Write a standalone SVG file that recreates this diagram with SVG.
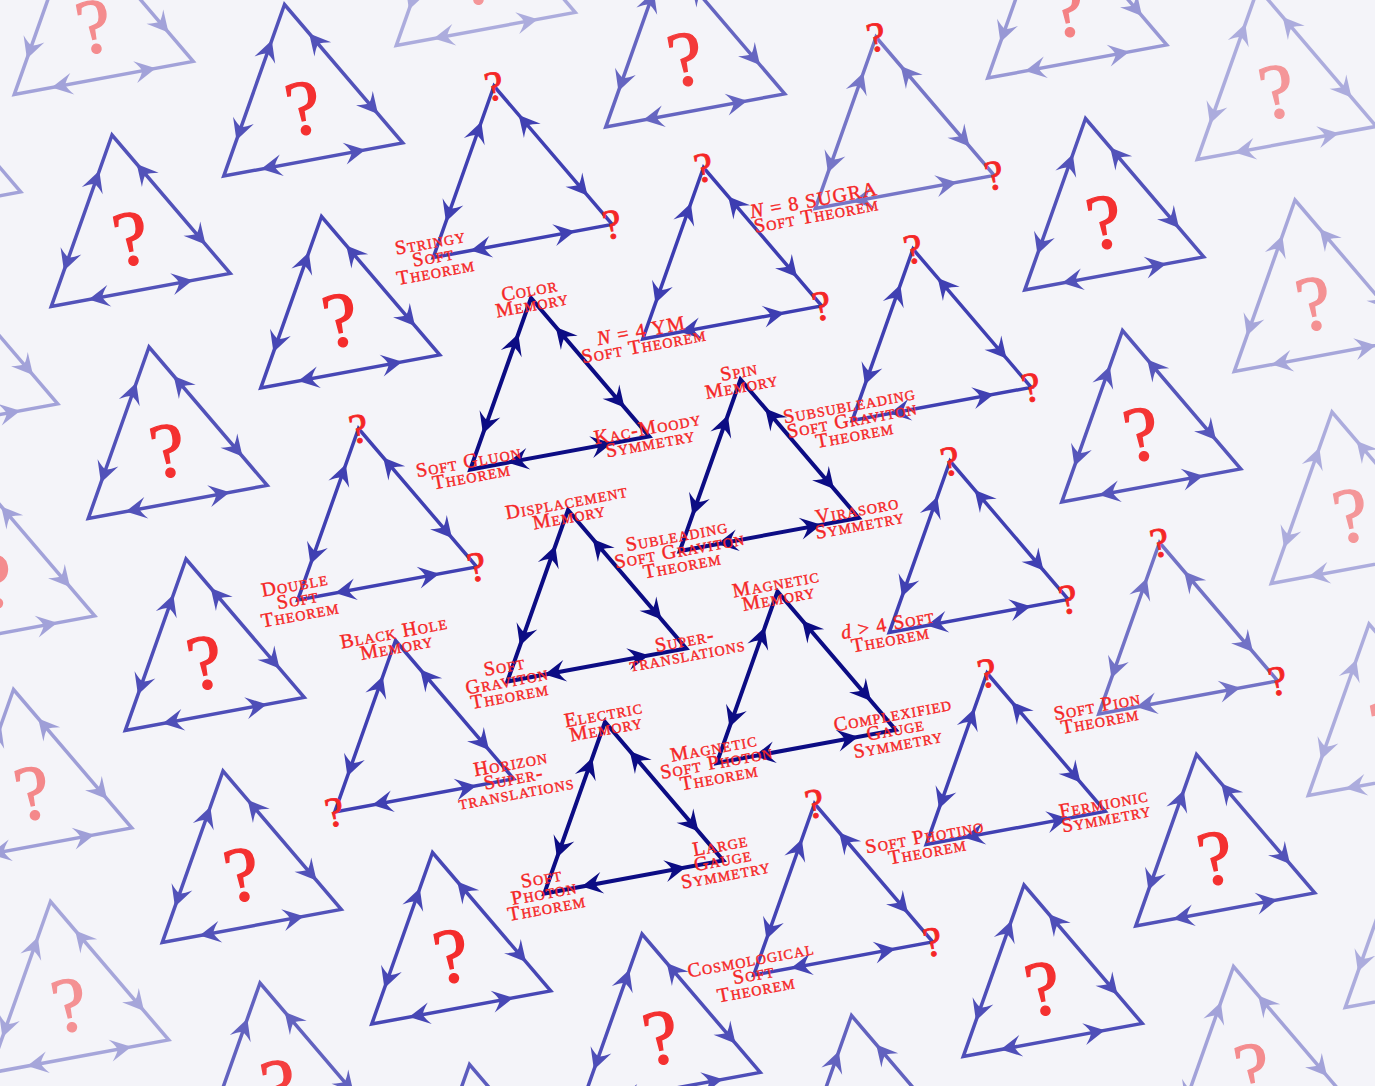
<svg xmlns="http://www.w3.org/2000/svg" xmlns:xlink="http://www.w3.org/1999/xlink" width="1375" height="1086" viewBox="0 0 1375 1086">
<style>
.lb{font-family:"Liberation Serif","DejaVu Serif",serif;font-size:20px;font-variant:small-caps;letter-spacing:1.1px;fill:#f42626;stroke:#f42626;stroke-width:0.4px;text-anchor:middle}
.q{font-family:"Liberation Serif","DejaVu Serif",serif;font-size:42px;fill:#f42626;stroke:#f42626;stroke-width:0.9px;text-anchor:middle}
.qc{font-size:78px;stroke-width:1.4px}
.mi{font-style:italic;font-variant:normal}
.dk{color:#0c0c84;stroke-width:4px}
.md{color:#2a2aaa;stroke-width:3.5px}
</style>
<defs>
<path id="ah" d="M0,0 L-21,-11 Q-15,-4 -14,0 Q-15,4 -21,11 Z"/>
<g id="tri">
<path d="M0,0 L-91,157.6 L91,157.6 Z" fill="none" stroke="currentColor" stroke-linejoin="miter"/>
<g fill="currentColor" stroke="none">
<use href="#ah" transform="translate(-19,32.9) rotate(-60)"/>
<use href="#ah" transform="translate(-72,124.7) rotate(120)"/>
<use href="#ah" transform="translate(19,32.9) rotate(-120)"/>
<use href="#ah" transform="translate(72,124.7) rotate(60)"/>
<use href="#ah" transform="translate(-53,157.6) rotate(180)"/>
<use href="#ah" transform="translate(53,157.6)"/>
</g>
</g>
</defs>
<rect x="0" y="0" width="1375" height="1086" fill="#f4f4f9"/>
<g id="connectors">
<use href="#tri" class="dk" transform="translate(531,298) rotate(-10.5)"/>
<use href="#tri" class="dk" transform="translate(740.5,379.5) rotate(-10.5)"/>
<use href="#tri" class="dk" transform="translate(568,510) rotate(-10.5)"/>
<use href="#tri" class="dk" transform="translate(777.5,591.5) rotate(-10.5)"/>
<use href="#tri" class="dk" transform="translate(605,722) rotate(-10.5)"/>
<use href="#tri" class="md" opacity="0.89" transform="translate(395.5,640.5) rotate(-10.5)"/>
<use href="#tri" class="md" opacity="0.89" transform="translate(494,86) rotate(-10.5)"/>
<use href="#tri" class="md" opacity="0.9" transform="translate(703.5,167.5) rotate(-10.5)"/>
<use href="#tri" class="md" opacity="0.62" transform="translate(876,37) rotate(-10.5)"/>
<use href="#tri" class="md" opacity="0.89" transform="translate(913,249) rotate(-10.5)"/>
<use href="#tri" class="md" opacity="0.89" transform="translate(950,461) rotate(-10.5)"/>
<use href="#tri" class="md" opacity="0.64" transform="translate(1159.5,542.5) rotate(-10.5)"/>
<use href="#tri" class="md" opacity="0.89" transform="translate(358.5,428.5) rotate(-10.5)"/>
<use href="#tri" class="md" opacity="0.89" transform="translate(987,673) rotate(-10.5)"/>
<use href="#tri" class="md" opacity="0.87" transform="translate(814.5,803.5) rotate(-10.5)"/>
<use href="#tri" class="md" opacity="0.4" transform="translate(75,-77) rotate(-10.5)"/>
<use href="#tri" class="md" opacity="0.35" transform="translate(457,-126) rotate(-10.5)"/>
<use href="#tri" class="md" opacity="0.8" transform="translate(284.5,4.5) rotate(-10.5)"/>
<use href="#tri" class="md" opacity="0.8" transform="translate(112,135) rotate(-10.5)"/>
<use href="#tri" class="md" opacity="0.4" transform="translate(-97.5,53.5) rotate(-10.5)"/>
<use href="#tri" class="md" opacity="0.7" transform="translate(666.5,-44.5) rotate(-10.5)"/>
<use href="#tri" class="md" opacity="0.45" transform="translate(1048.5,-93.5) rotate(-10.5)"/>
<use href="#tri" class="md" opacity="0.35" transform="translate(1258,-12) rotate(-10.5)"/>
<use href="#tri" class="md" opacity="0.8" transform="translate(1085.5,118.5) rotate(-10.5)"/>
<use href="#tri" class="md" opacity="0.38" transform="translate(1295,200) rotate(-10.5)"/>
<use href="#tri" class="md" opacity="0.78" transform="translate(1122.5,330.5) rotate(-10.5)"/>
<use href="#tri" class="md" opacity="0.35" transform="translate(1332,412) rotate(-10.5)"/>
<use href="#tri" class="md" opacity="0.35" transform="translate(1369,624) rotate(-10.5)"/>
<use href="#tri" class="md" opacity="0.35" transform="translate(1406,836) rotate(-10.5)"/>
<use href="#tri" class="md" opacity="0.8" transform="translate(1196.5,754.5) rotate(-10.5)"/>
<use href="#tri" class="md" opacity="0.82" transform="translate(1024,885) rotate(-10.5)"/>
<use href="#tri" class="md" opacity="0.4" transform="translate(1233.5,966.5) rotate(-10.5)"/>
<use href="#tri" class="md" opacity="0.72" transform="translate(851.5,1015.5) rotate(-10.5)"/>
<use href="#tri" class="md" opacity="0.82" transform="translate(642,934) rotate(-10.5)"/>
<use href="#tri" class="md" opacity="0.85" transform="translate(432.5,852.5) rotate(-10.5)"/>
<use href="#tri" class="md" opacity="0.8" transform="translate(223,771) rotate(-10.5)"/>
<use href="#tri" class="md" opacity="0.72" transform="translate(260,983) rotate(-10.5)"/>
<use href="#tri" class="md" opacity="0.38" transform="translate(50.5,901.5) rotate(-10.5)"/>
<use href="#tri" class="md" opacity="0.42" transform="translate(13.5,689.5) rotate(-10.5)"/>
<use href="#tri" class="md" opacity="0.4" transform="translate(-23.5,477.5) rotate(-10.5)"/>
<use href="#tri" class="md" opacity="0.82" transform="translate(186,559) rotate(-10.5)"/>
<use href="#tri" class="md" opacity="0.8" transform="translate(149,347) rotate(-10.5)"/>
<use href="#tri" class="md" opacity="0.4" transform="translate(-60.5,265.5) rotate(-10.5)"/>
<use href="#tri" class="md" opacity="0.85" transform="translate(321.5,216.5) rotate(-10.5)"/>
<use href="#tri" class="md" opacity="0.75" transform="translate(469.5,1064.5) rotate(-10.5)"/>
</g>
<g id="nodes">
<g id="n-color" transform="translate(531,298) rotate(-10.5)">
<text class="lb" x="0" y="-2">Color</text><text class="lb" x="0" y="13">Memory</text>
<text class="lb" x="-91" y="155.6">Soft Gluon</text><text class="lb" x="-91" y="170.6">Theorem</text>
<text class="lb" x="91" y="155.6">Kac-Moody</text><text class="lb" x="91" y="170.6">Symmetry</text>
</g>
<g id="n-spin" transform="translate(740.5,379.5) rotate(-10.5)">
<text class="lb" x="0" y="-2">Spin</text><text class="lb" x="0" y="13">Memory</text>
<text class="lb" x="-91" y="148.1">Subleading</text><text class="lb" x="-91" y="163.1">Soft Graviton</text><text class="lb" x="-91" y="178.1">Theorem</text>
<text class="lb" x="91" y="155.6">Virasoro</text><text class="lb" x="91" y="170.6">Symmetry</text>
</g>
<g id="n-displacement" transform="translate(568,510) rotate(-10.5)">
<text class="lb" x="0" y="-2">Displacement</text><text class="lb" x="0" y="13">Memory</text>
<text class="lb" x="-91" y="148.1">Soft</text><text class="lb" x="-91" y="163.1">Graviton</text><text class="lb" x="-91" y="178.1">Theorem</text>
<text class="lb" x="91" y="155.6">Super-</text><text class="lb" x="91" y="170.6">translations</text>
</g>
<g id="n-magnetic" transform="translate(777.5,591.5) rotate(-10.5)">
<text class="lb" x="0" y="-2">Magnetic</text><text class="lb" x="0" y="13">Memory</text>
<text class="lb" x="-91" y="148.1">Magnetic</text><text class="lb" x="-91" y="163.1">Soft Photon</text><text class="lb" x="-91" y="178.1">Theorem</text>
<text class="lb" x="91" y="148.1">Complexified</text><text class="lb" x="91" y="163.1">Gauge</text><text class="lb" x="91" y="178.1">Symmetry</text>
</g>
<g id="n-electric" transform="translate(605,722) rotate(-10.5)">
<text class="lb" x="0" y="-2">Electric</text><text class="lb" x="0" y="13">Memory</text>
<text class="lb" x="-91" y="148.1">Soft</text><text class="lb" x="-91" y="163.1">Photon</text><text class="lb" x="-91" y="178.1">Theorem</text>
<text class="lb" x="91" y="148.1">Large</text><text class="lb" x="91" y="163.1">Gauge</text><text class="lb" x="91" y="178.1">Symmetry</text>
</g>
<g id="n-blackhole" transform="translate(395.5,640.5) rotate(-10.5)">
<text class="lb" x="0" y="-2">Black Hole</text><text class="lb" x="0" y="13">Memory</text>
<text class="q" x="-91" y="171.6">?</text>
<text class="lb" x="91" y="148.1">Horizon</text><text class="lb" x="91" y="163.1">Super-</text><text class="lb" x="91" y="178.1">translations</text>
</g>
<g id="n-stringy" transform="translate(494,86) rotate(-10.5)">
<text class="q" x="0" y="14">?</text><text class="q" x="91" y="171.6">?</text>
<text class="lb" x="-91" y="148.1">Stringy</text><text class="lb" x="-91" y="163.1">Soft</text><text class="lb" x="-91" y="178.1">Theorem</text>
</g>
<g id="n-n4ym" transform="translate(703.5,167.5) rotate(-10.5)">
<text class="q" x="0" y="14">?</text><text class="q" x="91" y="171.6">?</text>
<text class="lb" x="-91" y="155.6"><tspan class="mi">N</tspan> = 4 YM</text><text class="lb" x="-91" y="170.6">Soft Theorem</text>
</g>
<g id="n-n8sugra" transform="translate(876,37) rotate(-10.5)">
<text class="q" x="0" y="14">?</text><text class="q" x="91" y="171.6">?</text>
<text class="lb" x="-91" y="155.6"><tspan class="mi">N</tspan> = 8 SUGRA</text><text class="lb" x="-91" y="170.6">Soft Theorem</text>
</g>
<g id="n-subsub" transform="translate(913,249) rotate(-10.5)">
<text class="q" x="0" y="14">?</text><text class="q" x="91" y="171.6">?</text>
<text class="lb" x="-91" y="148.1">Subsubleading</text><text class="lb" x="-91" y="163.1">Soft Graviton</text><text class="lb" x="-91" y="178.1">Theorem</text>
</g>
<g id="n-dgt4" transform="translate(950,461) rotate(-10.5)">
<text class="q" x="0" y="14">?</text><text class="q" x="91" y="171.6">?</text>
<text class="lb" x="-91" y="155.6"><tspan class="mi">d</tspan> &gt; 4 Soft</text><text class="lb" x="-91" y="170.6">Theorem</text>
</g>
<g id="n-pion" transform="translate(1159.5,542.5) rotate(-10.5)">
<text class="q" x="0" y="14">?</text><text class="q" x="91" y="171.6">?</text>
<text class="lb" x="-91" y="155.6">Soft Pion</text><text class="lb" x="-91" y="170.6">Theorem</text>
</g>
<g id="n-double" transform="translate(358.5,428.5) rotate(-10.5)">
<text class="q" x="0" y="14">?</text><text class="q" x="91" y="171.6">?</text>
<text class="lb" x="-91" y="148.1">Double</text><text class="lb" x="-91" y="163.1">Soft</text><text class="lb" x="-91" y="178.1">Theorem</text>
</g>
<g id="n-fermionic" transform="translate(987,673) rotate(-10.5)">
<text class="q" x="0" y="14">?</text>
<text class="lb" x="-91" y="155.6">Soft Photino</text><text class="lb" x="-91" y="170.6">Theorem</text>
<text class="lb" x="91" y="155.6">Fermionic</text><text class="lb" x="91" y="170.6">Symmetry</text>
</g>
<g id="n-cosmo" transform="translate(814.5,803.5) rotate(-10.5)">
<text class="q" x="0" y="14">?</text><text class="q" x="91" y="171.6">?</text>
<text class="lb" x="-91" y="148.1">Cosmological</text><text class="lb" x="-91" y="163.1">Soft</text><text class="lb" x="-91" y="178.1">Theorem</text>
</g>
<g id="u1" opacity="0.5" transform="translate(75,-77) rotate(-10.5)"><text class="q qc" x="0" y="131">?</text></g>
<g id="u2" opacity="0.45" transform="translate(457,-126) rotate(-10.5)"><text class="q qc" x="0" y="131">?</text></g>
<g id="u3" opacity="0.95" transform="translate(284.5,4.5) rotate(-10.5)"><text class="q qc" x="0" y="131">?</text></g>
<g id="u4" opacity="0.95" transform="translate(112,135) rotate(-10.5)"><text class="q qc" x="0" y="131">?</text></g>
<g id="u5" opacity="0.5" transform="translate(-97.5,53.5) rotate(-10.5)"><text class="q qc" x="0" y="131">?</text></g>
<g id="u6" opacity="0.9" transform="translate(666.5,-44.5) rotate(-10.5)"><text class="q qc" x="0" y="131">?</text></g>
<g id="u7" opacity="0.55" transform="translate(1048.5,-93.5) rotate(-10.5)"><text class="q qc" x="0" y="131">?</text></g>
<g id="u8" opacity="0.45" transform="translate(1258,-12) rotate(-10.5)"><text class="q qc" x="0" y="131">?</text></g>
<g id="u9" opacity="0.95" transform="translate(1085.5,118.5) rotate(-10.5)"><text class="q qc" x="0" y="131">?</text></g>
<g id="u10" opacity="0.48" transform="translate(1295,200) rotate(-10.5)"><text class="q qc" x="0" y="131">?</text></g>
<g id="u11" opacity="0.93" transform="translate(1122.5,330.5) rotate(-10.5)"><text class="q qc" x="0" y="131">?</text></g>
<g id="u12" opacity="0.45" transform="translate(1332,412) rotate(-10.5)"><text class="q qc" x="0" y="131">?</text></g>
<g id="u13" opacity="0.45" transform="translate(1369,624) rotate(-10.5)"><text class="q qc" x="0" y="131">?</text></g>
<g id="u14" opacity="0.95" transform="translate(1196.5,754.5) rotate(-10.5)"><text class="q qc" x="0" y="131">?</text></g>
<g id="u15" opacity="0.95" transform="translate(1024,885) rotate(-10.5)"><text class="q qc" x="0" y="131">?</text></g>
<g id="u16" opacity="0.5" transform="translate(1233.5,966.5) rotate(-10.5)"><text class="q qc" x="0" y="131">?</text></g>
<g id="u17" opacity="0.95" transform="translate(642,934) rotate(-10.5)"><text class="q qc" x="0" y="131">?</text></g>
<g id="u18" opacity="0.97" transform="translate(432.5,852.5) rotate(-10.5)"><text class="q qc" x="0" y="131">?</text></g>
<g id="u19" opacity="0.95" transform="translate(223,771) rotate(-10.5)"><text class="q qc" x="0" y="131">?</text></g>
<g id="u20" opacity="0.88" transform="translate(260,983) rotate(-10.5)"><text class="q qc" x="0" y="131">?</text></g>
<g id="u21" opacity="0.48" transform="translate(50.5,901.5) rotate(-10.5)"><text class="q qc" x="0" y="131">?</text></g>
<g id="u22" opacity="0.52" transform="translate(13.5,689.5) rotate(-10.5)"><text class="q qc" x="0" y="131">?</text></g>
<g id="u23" opacity="0.95" transform="translate(186,559) rotate(-10.5)"><text class="q qc" x="0" y="131">?</text></g>
<g id="u24" opacity="0.95" transform="translate(149,347) rotate(-10.5)"><text class="q qc" x="0" y="131">?</text></g>
<g id="u25" opacity="0.97" transform="translate(321.5,216.5) rotate(-10.5)"><text class="q qc" x="0" y="131">?</text></g>
<g id="u26" opacity="0.5" transform="translate(-23.5,477.5) rotate(-10.5)"><text class="q qc" x="0" y="131">?</text></g>
</g>
</svg>
